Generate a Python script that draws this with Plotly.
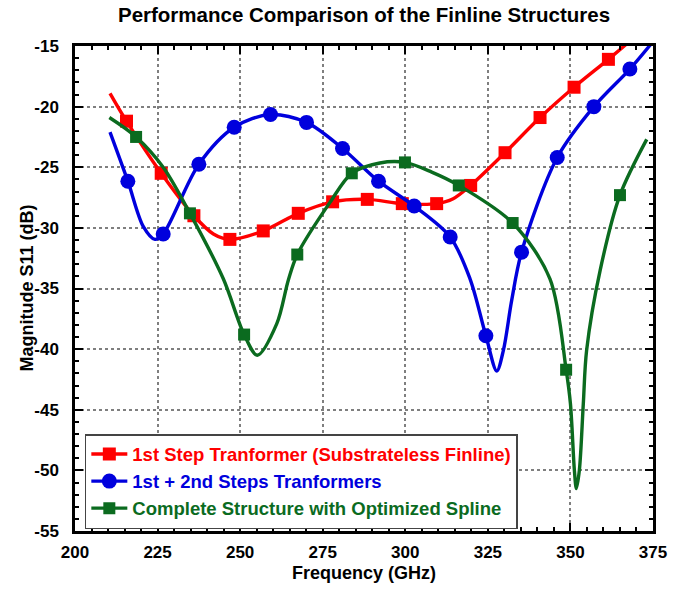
import plotly.graph_objects as go

# ---------------- data ----------------
red_line_x = [210.6, 215.6, 226.1, 236.0, 241.9, 246.9, 257.0, 267.6, 278.0, 288.5,
              299.1, 309.5, 314.5, 319.8, 330.2, 340.8, 351.1, 361.5, 368.0]
red_line_y = [-18.9, -21.2, -25.5, -29.0, -30.5, -30.95, -30.25, -28.8, -27.85, -27.65,
              -28.0, -28.0, -27.6, -26.5, -23.8, -20.9, -18.4, -16.1, -14.6]
red_mk_x = [215.6, 226.1, 236.0, 246.9, 257.0, 267.6, 278.0, 288.5, 299.1, 309.5,
            319.8, 330.2, 340.8, 351.1, 361.5]
red_mk_y = [-21.2, -25.5, -29.0, -30.95, -30.25, -28.8, -27.85, -27.65, -28.0, -28.0,
            -26.5, -23.8, -20.9, -18.4, -16.1]

blue_line_x = [210.6, 216.0, 220.7, 224.2, 226.7, 237.5, 248.2, 259.2, 270.1, 281.0,
               291.9, 302.7, 313.6, 319.6, 324.4, 327.7, 329.7, 332.2, 335.2, 346.0,
               357.1, 368.0, 374.5]
blue_line_y = [-22.1, -26.15, -29.9, -30.95, -30.5, -24.75, -21.7, -20.65, -21.3, -23.45,
               -26.15, -28.2, -30.75, -34.2, -38.9, -41.8, -40.1, -36.0, -32.0, -24.2,
               -20.0, -16.9, -14.8]
blue_mk_x = [216.0, 226.7, 237.5, 248.2, 259.2, 270.1, 281.0, 291.9, 302.7, 313.6,
             324.4, 335.2, 346.0, 357.1, 368.0]
blue_mk_y = [-26.15, -30.5, -24.75, -21.7, -20.65, -21.3, -23.45, -26.15, -28.2, -30.75,
             -38.9, -32.0, -24.2, -20.0, -16.9]

green_line_x = [210.4, 218.5, 226.7, 234.8, 244.9, 251.2, 255.2, 261.1, 264.6, 267.3,
                277.2, 283.8, 292.3, 299.9, 308.0, 316.2, 332.5, 343.8, 348.7, 350.0,
                351.2, 351.8, 352.7, 353.9, 354.9, 359.0, 365.0, 373.1]
green_line_y = [-20.9, -22.5, -25.0, -28.8, -34.2, -38.8, -40.5, -37.9, -34.3, -32.2,
                -27.9, -25.5, -24.65, -24.6, -25.4, -26.5, -29.6, -34.2, -41.7, -44.5,
                -50.0, -51.5, -50.0, -44.5, -40.1, -33.5, -27.3, -22.7]
green_mk_x = [218.5, 234.8, 251.2, 267.3, 283.8, 299.9, 316.2, 332.5, 348.7, 365.0]
green_mk_y = [-22.5, -28.8, -38.8, -32.2, -25.5, -24.6, -26.5, -29.6, -41.7, -27.3]

series_names = ["1st Step Tranformer (Substrateless Finline)",
                "1st + 2nd Steps Tranformers",
                "Complete Structure with Optimized Spline"]

x_ticks = [200, 225, 250, 275, 300, 325, 350, 375]
y_ticks = [-55, -50, -45, -40, -35, -30, -25, -20, -15]
y_tick_text = ["-55", "-50", "-45", "-40", "-35", "-30", "-25", "-20", "-15"]

RED, BLUE, GREEN = "#ff0000", "#0000dd", "#0b6b1f"
FONT = "Liberation Sans"

fig = go.Figure()

specs = [
    (red_line_x, red_line_y, red_mk_x, red_mk_y, RED, "square", 13),
    (blue_line_x, blue_line_y, blue_mk_x, blue_mk_y, BLUE, "circle", 15),
    (green_line_x, green_line_y, green_mk_x, green_mk_y, GREEN, "square", 12),
]

for (lx, ly, mx, my, col, sym, sz), name in zip(specs, series_names):
    fig.add_trace(go.Scatter(x=lx, y=ly, mode="lines", line=dict(color=col, width=3.4, shape="spline", smoothing=0.9),
                             showlegend=False, hoverinfo="skip"))
    fig.add_trace(go.Scatter(x=mx, y=my, mode="markers", marker=dict(color=col, symbol=sym, size=sz),
                             showlegend=False, cliponaxis=True))
    fig.add_trace(go.Scatter(x=[None], y=[None], mode="lines+markers",
                             line=dict(color=col, width=3.4),
                             marker=dict(color=col, symbol=sym, size=sz),
                             name=f"<span style='color:{col}'>{name}</span>"))

axis_common = dict(
    showline=True, linecolor="black", linewidth=2.5, mirror="allticks",
    ticks="inside", ticklen=8, tickwidth=2, tickcolor="black",
    showgrid=True, gridcolor="#7f7f7f", gridwidth=1.5, griddash="dot",
    zeroline=False, automargin=False,
    tickfont=dict(family=FONT, size=17, color="black", weight="bold"),
)

fig.update_xaxes(range=[200, 375], tickvals=x_ticks, ticktext=[str(v) for v in x_ticks],
                 minor=dict(dtick=5, tick0=200, ticks="inside", ticklen=4, tickwidth=1.5, tickcolor="black", showgrid=False),
                 ticklabelstandoff=4,
                 **axis_common)
fig.update_yaxes(range=[-55, -15], tickvals=y_ticks, ticktext=y_tick_text,
                 minor=dict(dtick=1, tick0=-55, ticks="inside", ticklen=4, tickwidth=1.5, tickcolor="black", showgrid=False),
                 ticklabelstandoff=10,
                 **axis_common)

title_font = dict(family=FONT, size=18, color="black", weight="bold")
fig.add_annotation(text="Frequency (GHz)", xref="paper", yref="paper", x=0.5, y=-42 / 485,
                   xanchor="center", yanchor="middle", showarrow=False, font=title_font)
fig.add_annotation(text="Magnitude S11 (dB)", xref="paper", yref="paper", x=-49 / 578, y=0.5,
                   xanchor="center", yanchor="middle", textangle=-90, showarrow=False, font=title_font)

fig.update_layout(
    width=688, height=593,
    margin=dict(l=75, r=35, t=46, b=62),
    paper_bgcolor="white", plot_bgcolor="white",
    title=dict(text="Performance Comparison of the Finline Structures",
               font=dict(family=FONT, size=20.5, color="black", weight="bold"),
               x=0.5, xref="paper", xanchor="center", y=1 - 15 / 593, yref="container", yanchor="middle"),
    legend=dict(x=0.017, y=0.2, xanchor="left", yanchor="top",
                bgcolor="white", bordercolor="#444444", borderwidth=1.5,
                font=dict(family=FONT, size=18.5, weight="bold"),
                itemwidth=36, tracegroupgap=0),
    showlegend=True,
)

fig.write_html("out.html", config={"displayModeBar": False},
               post_script="document.body.style.margin='0';")
